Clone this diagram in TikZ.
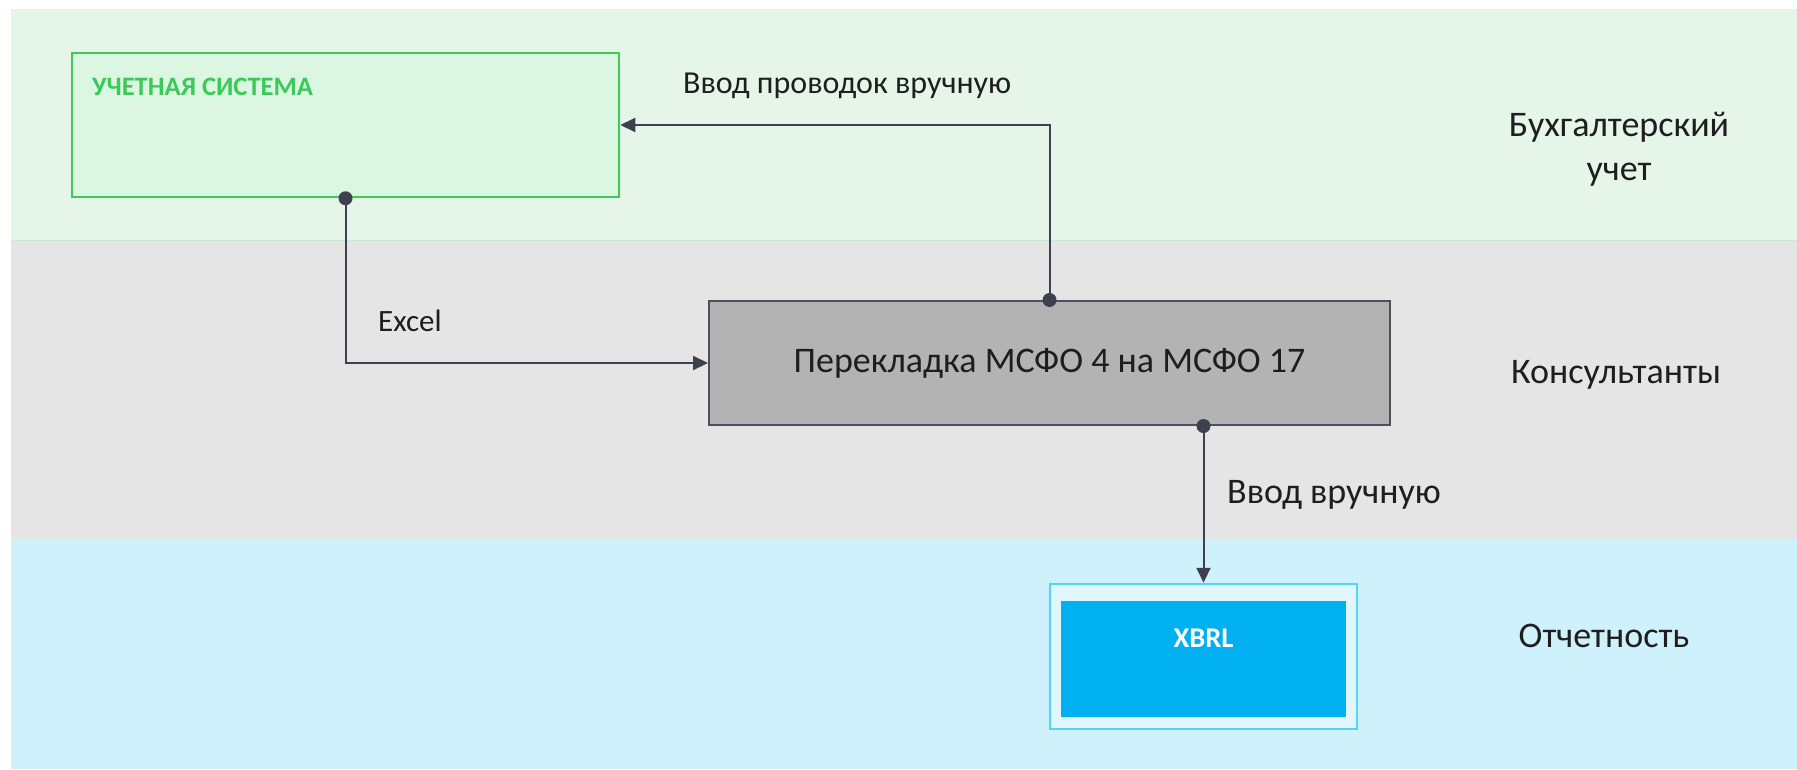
\documentclass[tikz,border=0pt]{standalone}
\usepackage{fontspec}
\setmainfont{Carlito}
\usetikzlibrary{arrows.meta}
\definecolor{bandgreen}{RGB}{229,246,233}
\definecolor{bandgrey}{RGB}{229,229,229}
\definecolor{bandblue}{RGB}{207,241,251}
\definecolor{boxgreenfill}{RGB}{219,246,225}
\definecolor{boxgreenline}{RGB}{60,201,90}
\definecolor{boxgreyfill}{RGB}{179,179,179}
\definecolor{boxgreyline}{RGB}{75,80,90}
\definecolor{xouterfill}{RGB}{225,247,253}
\definecolor{xouterline}{RGB}{85,212,245}
\definecolor{xinner}{RGB}{0,176,240}
\definecolor{conn}{RGB}{61,65,77}
\definecolor{txt}{RGB}{30,30,30}
\definecolor{bandline}{RGB}{208,230,212}
\tikzset{
  lanelabel/.style={text=txt, font=\fontsize{36}{44}\selectfont, align=center},
  connlabel/.style={text=txt, anchor=west, inner sep=0pt},
  connector/.style={draw=conn, line width=2pt, -{Triangle[length=15pt,width=14pt]}},
  dotmark/.style={fill=conn},
}
\begin{document}
\begin{tikzpicture}[x=1pt,y=-1pt]
\useasboundingbox (0,0) rectangle (1797,769);
\fill[white] (0,0) rectangle (1797,769);
% bands
\fill[bandgreen] (11,9) rectangle (1797,240);
\fill[bandgrey] (11,240) rectangle (1797,539);
\fill[bandblue] (11,539) rectangle (1797,769);
\draw[draw=bandline, line width=1pt] (11,240) -- (1797,240);
% boxes
\node[draw=boxgreenline, fill=boxgreenfill, line width=2.5pt, minimum width=547pt, minimum height=144pt, inner sep=0pt] (us) at (345.5,125) {};
\node[anchor=west, text=boxgreenline, font=\bfseries\fontsize{26.6}{30}\selectfont, inner sep=0pt] (ustitle) at (92,87) {УЧЕТНАЯ СИСТЕМА};
\node[draw=boxgreyline, fill=boxgreyfill, line width=2pt, minimum width=681pt, minimum height=124pt, inner sep=0pt, text=txt, font=\fontsize{36}{42}\selectfont] (conv) at (1049.5,363) {Перекладка МСФО 4 на МСФО 17};
\node[draw=xouterline, fill=xouterfill, line width=2.5pt, minimum width=307pt, minimum height=145pt, inner sep=0pt] (xbrl) at (1203.5,656.5) {};
\fill[xinner] (1061,601) rectangle (1346,717);
\node[text=white, font=\bfseries\fontsize{28.6}{32}\selectfont, inner sep=0pt] (xbrltext) at (1203.5,638) {XBRL};
% connectors
\draw[connector] (us.south) |- (conv.west);
\draw[connector] (conv.north) |- (us.east);
\draw[connector] (conv.south -| xbrl.north) -- (xbrl.north);
\fill[dotmark] (us.south) circle (7pt);
\fill[dotmark] (conv.north) circle (7pt);
\fill[dotmark] (conv.south -| xbrl.north) circle (7pt);
% connector labels
\node[connlabel, font=\fontsize{32}{38}\selectfont] (l1) at (683,86) {Ввод проводок вручную};
\node[connlabel, font=\fontsize{31}{36}\selectfont] (l2) at (378,321) {Excel};
\node[connlabel, font=\fontsize{36}{42}\selectfont] (l3) at (1227,495) {Ввод вручную};
% lane labels
\node[lanelabel] (lane1) at (1619,149) {Бухгалтерский\\учет};
\node[lanelabel] (lane2) at (1616,375) {Консультанты};
\node[lanelabel] (lane3) at (1604,636) {Отчетность};
\end{tikzpicture}
\end{document}
